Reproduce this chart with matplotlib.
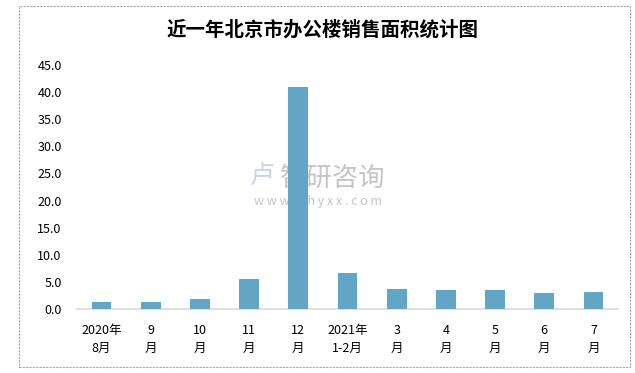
import matplotlib
matplotlib.use('Agg')
import matplotlib.pyplot as plt
from matplotlib.patches import Rectangle

plt.rcParams['font.family'] = ['Noto Sans CJK SC', 'DejaVu Sans']

months = ['2020年\n8月', '9\n月', '10\n月', '11\n月', '12\n月', '2021年\n1-2月',
          '3\n月', '4\n月', '5\n月', '6\n月', '7\n月']
area = [1.3, 1.3, 1.85, 5.5, 41.0, 6.6, 3.7, 3.5, 3.5, 3.0, 3.1]
yticks = [0, 5, 10, 15, 20, 25, 30, 35, 40, 45]

W, H = 635, 373
fig = plt.figure(figsize=(6.35, 3.73), dpi=100)
ax = fig.add_axes([77 / W, 1 - 309 / H, 541 / W, 244 / H])

x = list(range(len(months)))
ax.bar(x, area, width=0.4, color='#62A5C5', zorder=3)
ax.set_xlim(-0.5, len(months) - 0.5)
ax.set_ylim(0, 45)
ax.set_yticks(yticks)
ax.set_yticklabels(['%.1f' % v for v in yticks], fontsize=9)
ax.set_xticks(x)
ax.set_xticklabels(months, fontsize=9, linespacing=1.45)
ax.tick_params(axis='y', length=0, pad=11)
ax.tick_params(axis='x', length=0, pad=11)
for s in ['top', 'right', 'left']:
    ax.spines[s].set_visible(False)
ax.spines['bottom'].set_color('#D9D9D9')
ax.spines['bottom'].set_linewidth(1.2)

fig.text(323 / W, 1 - 30 / H, '近一年北京市办公楼销售面积统计图', ha='center', va='center',
         fontsize=14, fontweight='bold')

# watermark, behind the bars
tf = fig.transFigure
ax.text(333 / W, 1 - 178 / H, '智研咨询', fontsize=19, color='#A6A6A6', alpha=0.65,
        ha='center', va='center', transform=tf, zorder=1)
ax.text(318 / W, 1 - 202 / H, 'w w w . c h y x x . c o m', fontsize=9, color='#A6A6A6',
        alpha=0.65, ha='center', va='center', transform=tf, zorder=1)
ax.text(262 / W, 1 - 177 / H, '卢', fontsize=18, color='#B8CBE0', alpha=0.8,
        ha='center', va='center', transform=tf, zorder=1)

# dashed figure border
fig.patches.append(Rectangle((19 / W, 6 / H), 611 / W, 361 / H, transform=tf,
                             fill=False, edgecolor='#A6A6A6', linestyle=(0, (2, 1)), linewidth=0.8))

fig.savefig('out.png', dpi=100)
